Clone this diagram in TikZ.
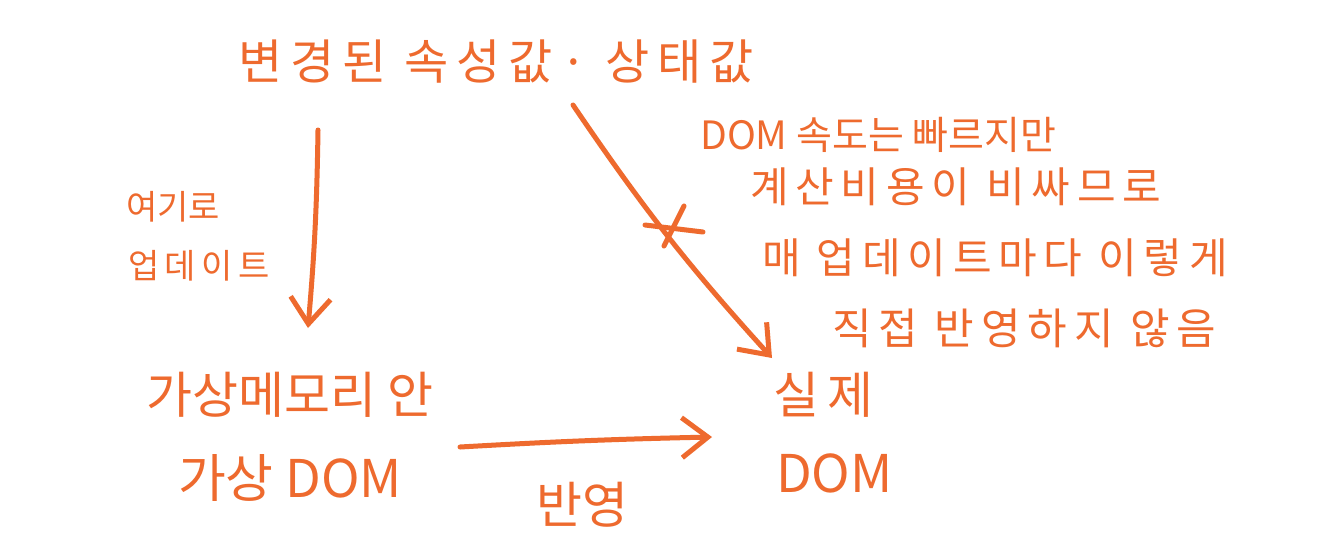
\documentclass[tikz,border=0pt]{standalone}
\usepackage{fontspec}
\newfontfamily\cjk{Noto Sans CJK KR}
\newfontfamily\cjkwide[LetterSpace=16]{Noto Sans CJK KR}
\usetikzlibrary{arrows.meta,positioning}
\definecolor{penorange}{HTML}{EE6A2E}
\tikzset{
  hand/.style={text=penorange, inner sep=0pt, font=\cjk\fontsize{#1}{#1}\selectfont},
  hand/.default=48,
  handwide/.style={text=penorange, inner sep=0pt, font=\cjkwide\fontsize{#1}{#1}\selectfont},
  stroke/.style={draw=penorange, line width=5pt, line cap=round, line join=round},
  pen/.style={stroke, -{Straight Barb[length=26pt,width=40pt,line width=5pt]}}
}
\begin{document}
\begin{tikzpicture}[x=1pt,y=-1pt]
\fill[white] (0,0) rectangle (1322,539);
\useasboundingbox (0,0) rectangle (1322,539);

\node[handwide=48] (changed) at (496,62) {변경된 속성값· 상태값};

\node[hand=34, anchor=west] (here1) at (126,207) {여기로};
\node[handwide=34, anchor=west] (here2) at (128,266) {업데이트};

\node[hand=50] (vmem) at (290,395) {가상메모리 안};
\node[hand=52] (vdom) [below=36pt of vmem] {가상 DOM};

\node[handwide=50, anchor=west] (real1) at (773,395) {실제};
\node[hand=52, anchor=west] (real2) at (776,473) {DOM};

\node[hand=50] (apply) at (582,505) {반영};

\node[hand=39, anchor=west] (note1) at (700,135) {DOM 속도는 빠르지만};
\node[handwide=42, anchor=west] (note2) at (750,187) {계산비용이 비싸므로};
\node[handwide=42, anchor=west] (note3) at (762,258) {매 업데이트마다 이렇게};
\node[handwide=43, anchor=west] (note4) at (832,328) {직접 반영하지 않음};

\coordinate (downA) at (318,130);
\coordinate (downB) at (308,328);
\coordinate (diagA) at (573,105);
\coordinate (diagB) at (772,358);
\coordinate (sideA) at (460,447);
\coordinate (sideB) at (712,437);

\draw[pen] (downA) to[bend left=2] (downB);
\draw[pen] (diagA) to[bend right=4] (diagB);
\draw[pen] (sideA) to[bend left=1] (sideB);

% cross on the direct path
\draw[stroke] (645,225) -- (703,232);
\draw[stroke] (684,206) -- (664,246);
\end{tikzpicture}
\end{document}
